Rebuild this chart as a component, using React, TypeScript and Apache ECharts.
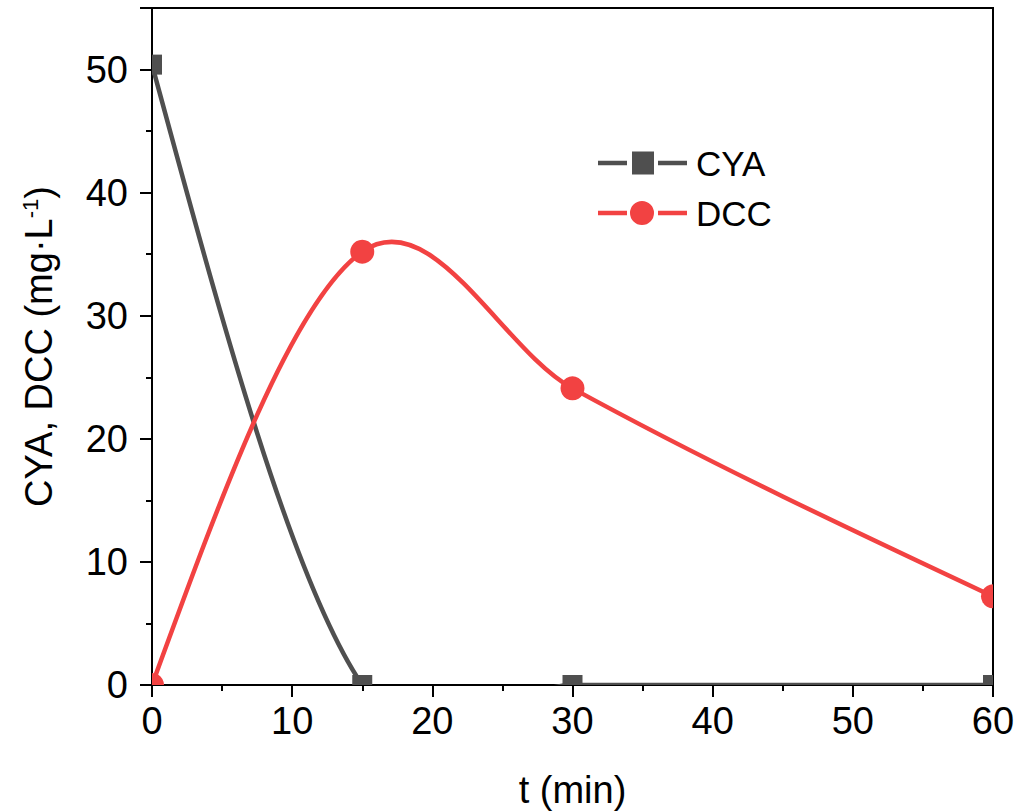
import React, { useEffect, useRef } from "react";
import * as echarts from "echarts";

const timeMin = [0, 15, 30, 60];
const cyaValues = [50.4, 0, 0, 0];
const dccValues = [0, 35.2, 24.1, 7.2];
const xTicks = [0, 10, 20, 30, 40, 50, 60];
const yTicks = [0, 10, 20, 30, 40, 50];

const CYA_COLOR = "#4f4f4f";
const DCC_COLOR = "#f24242";
const LINE_W = 4.5;

// cubic Hermite spline through pixel points (central-difference tangents, natural ends), drawn as bezier segments
function splineCurve(pts: number[][], color: string) {
  const n = pts.length;
  const xs = pts.map((p) => p[0]);
  const ys = pts.map((p) => p[1]);
  const slopes: number[] = [];
  for (let i = 0; i < n - 1; i++) slopes.push((ys[i + 1] - ys[i]) / (xs[i + 1] - xs[i]));
  const m = new Array(n).fill(0);
  for (let i = 1; i < n - 1; i++) m[i] = (ys[i + 1] - ys[i - 1]) / (xs[i + 1] - xs[i - 1]);
  if (n > 2) {
    m[0] = (3 * slopes[0] - m[1]) / 2;
    m[n - 1] = (3 * slopes[n - 2] - m[n - 2]) / 2;
  } else {
    m[0] = slopes[0];
    m[1] = slopes[0];
  }
  const children: any[] = [];
  for (let i = 0; i < n - 1; i++) {
    const hh = xs[i + 1] - xs[i];
    children.push({
      type: "bezierCurve",
      shape: {
        x1: xs[i],
        y1: ys[i],
        cpx1: xs[i] + hh / 3,
        cpy1: ys[i] + (m[i] * hh) / 3,
        cpx2: xs[i + 1] - hh / 3,
        cpy2: ys[i + 1] - (m[i + 1] * hh) / 3,
        x2: xs[i + 1],
        y2: ys[i + 1],
      },
      style: { stroke: color, lineWidth: LINE_W, fill: "none", lineCap: "round" },
    });
  }
  return { type: "group", children };
}

function makeSeries(name: string, values: number[], color: string, marker: "rect" | "circle", z: number) {
  return {
    type: "custom",
    name,
    clip: true,
    z,
    data: timeMin.map((t, i) => [t, values[i]]),
    encode: { x: 0, y: 1 },
    itemStyle: { color },
    renderItem: (params: any, api: any) => {
      const p = api.coord([api.value(0), api.value(1)]);
      const children: any[] = [];
      if (params.dataIndex === 0) {
        const pts = timeMin.map((t, i) => api.coord([t, values[i]]));
        children.push(splineCurve(pts, color));
      }
      if (marker === "rect") {
        children.push({ type: "rect", shape: { x: p[0] - 10, y: p[1] - 10, width: 20, height: 20 }, style: { fill: color } });
      } else {
        children.push({ type: "circle", shape: { cx: p[0], cy: p[1], r: 12 }, style: { fill: color } });
      }
      return { type: "group", children };
    },
  };
}

export default function App() {
  const ref = useRef<HTMLDivElement>(null);
  useEffect(() => {
    if (!ref.current) return;
    const chart = echarts.init(ref.current, undefined, { renderer: "svg" });
    const font = "Liberation Sans, Arial, sans-serif";
    const axisCommon = {
      axisLine: { show: true, onZero: false, lineStyle: { color: "#000", width: 2 } },
      axisTick: { show: true, inside: false, length: 12, lineStyle: { color: "#000", width: 2 } },
      minorTick: { show: true, splitNumber: 2, length: 6, lineStyle: { color: "#000", width: 2 } },
      splitLine: { show: false },
    };
    chart.setOption({
      animation: false,
      backgroundColor: "#fff",
      grid: {
        left: 152,
        top: 8,
        right: 27,
        bottom: 126,
        show: true,
        borderColor: "#000",
        borderWidth: 2,
        outerBoundsMode: "none",
        containLabel: false,
      },
      legend: {
        left: 593,
        top: 140,
        orient: "vertical",
        itemWidth: 89,
        itemHeight: 24,
        itemGap: 14,
        textStyle: { fontSize: 35, fontFamily: font, color: "#000", lineHeight: 36, padding: [0, 0, 0, 4] },
        data: [
          { name: "CYA", icon: "path://M0,9.75h29v4.5h-29z M34,0.5h22v23h-22z M60,9.75h29v4.5h-29z" },
          { name: "DCC", icon: "path://M0,9.75h29v4.5h-29z M32,12a12,12 0 1,0 24,0a12,12 0 1,0 -24,0z M60,9.75h29v4.5h-29z" },
        ],
      },
      xAxis: {
        type: "value",
        min: xTicks[0],
        max: xTicks[xTicks.length - 1],
        interval: 10,
        name: "t (min)",
        nameLocation: "middle",
        nameGap: 86,
        nameTextStyle: { fontSize: 38, fontFamily: font, color: "#000" },
        ...axisCommon,
        axisLabel: { color: "#000", fontSize: 38, fontFamily: font, margin: 17 },
      },
      yAxis: {
        type: "value",
        min: yTicks[0],
        max: 55,
        interval: 10,
        name: "{a|CYA, DCC (mg·L}{s|-1}{a|)}",
        nameLocation: "middle",
        nameGap: 93,
        nameRotate: 90,
        nameTextStyle: {
          fontSize: 38,
          fontFamily: font,
          color: "#000",
          rich: {
            a: { fontSize: 38, fontFamily: font, color: "#000" },
            s: { fontSize: 22, fontFamily: font, color: "#000", verticalAlign: "top", padding: [0, 0, 18, 0] },
          },
        },
        ...axisCommon,
        axisLabel: {
          color: "#000",
          fontSize: 38,
          fontFamily: font,
          margin: 24,
          formatter: (v: number) => (v > 50 ? "" : String(v)),
        },
      },
      series: [
        makeSeries("CYA", cyaValues, CYA_COLOR, "rect", 2),
        makeSeries("DCC", dccValues, DCC_COLOR, "circle", 3),
      ],
    });
    return () => chart.dispose();
  }, []);
  return <div ref={ref} style={{ width: 1020, height: 811, position: "absolute", left: 0, top: 0 }} />;
}
